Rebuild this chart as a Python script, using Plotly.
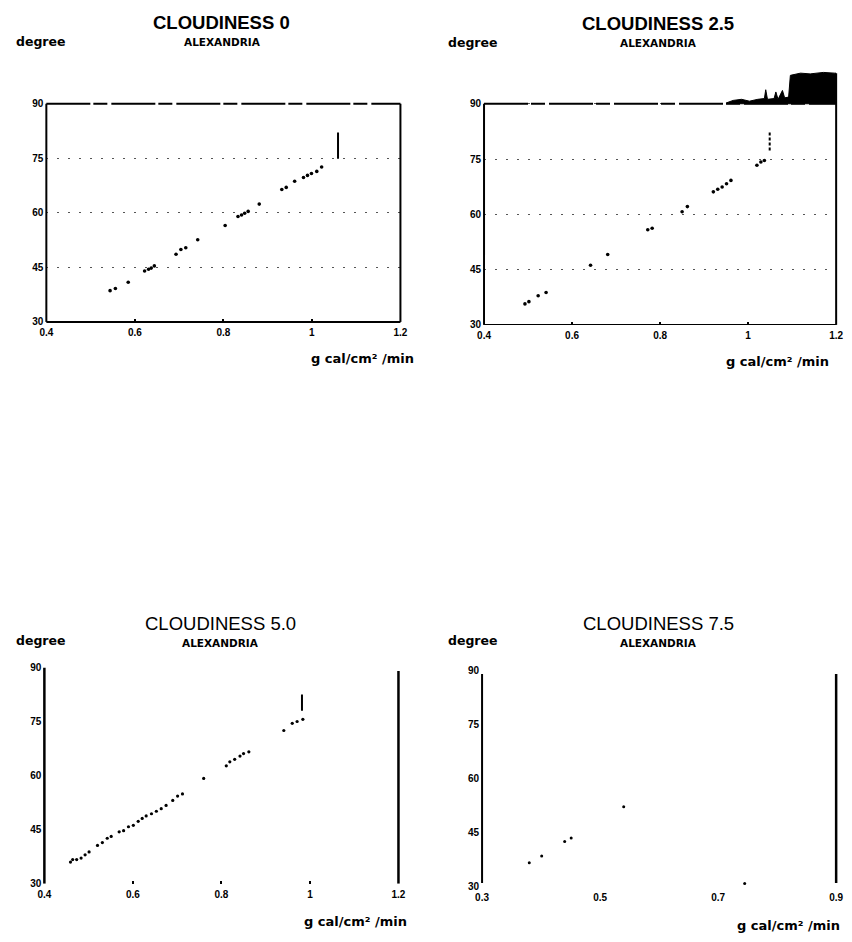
import plotly.graph_objects as go

W, H = 852, 942

# ---------------- data ----------------
# Cloudiness 0
c0_x = [0.544, 0.556, 0.585, 0.622, 0.631, 0.637, 0.644, 0.693, 0.704, 0.715, 0.742,
        0.804, 0.833, 0.841, 0.848, 0.856, 0.881, 0.932, 0.942, 0.961, 0.981, 0.990,
        0.999, 1.011, 1.022]
c0_y = [38.6, 39.2, 40.9, 44.0, 44.5, 44.8, 45.4, 48.6, 49.9, 50.4, 52.6,
        56.5, 59.0, 59.4, 59.9, 60.4, 62.4, 66.4, 67.0, 68.7, 69.7, 70.3,
        70.8, 71.4, 72.6]
c0_bar_x = [1.059, 1.059]
c0_bar_y = [74.9, 82.1]

# Cloudiness 2.5
c25_x = [0.493, 0.502, 0.523, 0.541, 0.642, 0.681, 0.772, 0.782, 0.850, 0.862,
         0.921, 0.931, 0.941, 0.951, 0.961, 1.020, 1.029, 1.037]
c25_y = [35.7, 36.3, 37.9, 38.8, 46.2, 49.1, 55.8, 56.2, 60.7, 62.1,
         66.1, 66.8, 67.4, 68.3, 69.2, 73.3, 74.2, 74.6]
c25_bar_x = [1.049, 1.049]
c25_bar_y = [77.3, 82.2]
# dark band printed above the frame of the 2.5 panel
band_x = [0.950, 0.966, 0.985, 1.003, 1.022, 1.037, 1.040, 1.044, 1.059, 1.063, 1.068,
          1.078, 1.083, 1.092, 1.096, 1.119, 1.141, 1.171, 1.197, 1.200]
band_y = [90.2, 90.9, 91.2, 90.7, 91.2, 91.4, 93.8, 91.2, 91.4, 93.2, 91.2,
          93.6, 91.6, 91.8, 97.7, 98.3, 98.1, 98.5, 98.3, 98.3]
band_base = 90

# Cloudiness 5.0
c5_x = [0.459, 0.464, 0.473, 0.483, 0.492, 0.501, 0.520, 0.531, 0.542, 0.551, 0.569,
        0.579, 0.590, 0.601, 0.612, 0.621, 0.630, 0.642, 0.653, 0.664, 0.675, 0.690,
        0.701, 0.712, 0.760, 0.811, 0.819, 0.830, 0.842, 0.850, 0.862, 0.941, 0.960,
        0.971, 0.984]
c5_y = [36.0, 36.7, 36.7, 37.1, 38.0, 38.8, 40.6, 41.4, 42.6, 43.1, 44.4,
        44.7, 45.8, 46.2, 47.3, 48.1, 48.8, 49.4, 50.1, 50.8, 51.7, 53.1,
        54.3, 54.9, 59.2, 62.7, 63.8, 64.5, 65.4, 66.1, 66.6, 72.5, 74.5,
        75.0, 75.6]
c5_bar_x = [0.982, 0.982]
c5_bar_y = [78.0, 82.5]

# Cloudiness 7.5
c75_x = [0.380, 0.401, 0.440, 0.451, 0.540, 0.745]
c75_y = [36.6, 38.5, 42.5, 43.5, 52.2, 30.9]

y_ticks = [30, 45, 60, 75, 90]
x_ticks_a = [0.4, 0.6, 0.8, 1.0, 1.2]
x_text_a = ["0.4", "0.6", "0.8", "1", "1.2"]
x_ticks_b = [0.3, 0.5, 0.7, 0.9]
x_text_b = ["0.3", "0.5", "0.7", "0.9"]

titles = ["CLOUDINESS 0", "CLOUDINESS 2.5", "CLOUDINESS 5.0", "CLOUDINESS 7.5"]
station = "ALEXANDRIA"
y_label = "degree"
x_label = "g cal/cm² /min"

# ---------------- layout helpers ----------------
def dx(a, b):
    return [a / W, b / W]

def dy(top, bottom):
    return [1 - bottom / H, 1 - top / H]

FONT = "Liberation Sans"
WIDE = "DejaVu Sans"
tickfont = dict(family=FONT, size=10, color="black", weight="bold")

fig = go.Figure()

dot = dict(color="black", size=3.6, symbol="circle")

fig.add_trace(go.Scatter(x=c0_x, y=c0_y, mode="markers", marker=dot, xaxis="x", yaxis="y"))
fig.add_trace(go.Scatter(x=c0_bar_x, y=c0_bar_y, mode="lines",
                         line=dict(color="black", width=2), xaxis="x", yaxis="y"))

# band: closed polygon from the band top back along the frame line
poly_x = band_x + band_x[::-1]
poly_y = band_y + [band_base] * len(band_x)
fig.add_trace(go.Scatter(x=poly_x, y=poly_y, mode="lines", fill="toself",
                         fillcolor="black", line=dict(color="black", width=1),
                         xaxis="x2", yaxis="y2"))
fig.add_trace(go.Scatter(x=c25_x, y=c25_y, mode="markers", marker=dot, xaxis="x2", yaxis="y2"))
fig.add_trace(go.Scatter(x=c25_bar_x, y=c25_bar_y, mode="lines",
                         line=dict(color="black", width=2, dash="3px,2px"),
                         xaxis="x2", yaxis="y2"))

fig.add_trace(go.Scatter(x=c5_x, y=c5_y, mode="markers",
                         marker=dict(color="black", size=3.2), xaxis="x3", yaxis="y3"))
fig.add_trace(go.Scatter(x=c5_bar_x, y=c5_bar_y, mode="lines",
                         line=dict(color="black", width=2), xaxis="x3", yaxis="y3"))

fig.add_trace(go.Scatter(x=c75_x, y=c75_y, mode="markers",
                         marker=dict(color="black", size=3.0), xaxis="x4", yaxis="y4"))

grid = dict(showgrid=True, gridcolor="#555", gridwidth=1, griddash="2px,9px")
ycommon = dict(tickvals=y_ticks, ticktext=[str(v) for v in y_ticks], tickfont=tickfont,
               showline=False, zeroline=False, ticks="", ticklabelstandoff=2)
xcommon = dict(showgrid=False, zeroline=False, showline=False, tickfont=tickfont,
               ticklabelstandoff=3)

layout = dict(
    width=W, height=H, margin=dict(l=0, r=0, t=0, b=0), autosize=False,
    paper_bgcolor="white", plot_bgcolor="white", showlegend=False,
    xaxis=dict(domain=dx(40, 400), range=[0.4, 1.2], anchor="y", tickvals=x_ticks_a,
               ticktext=x_text_a, ticks="inside", ticklen=3, tickwidth=2,
               tickcolor="black", **xcommon),
    yaxis=dict(domain=dy(99, 320), range=[30, 90], anchor="x", **grid, **ycommon),
    xaxis2=dict(domain=dx(485, 843), range=[0.4, 1.2], anchor="y2", tickvals=x_ticks_a,
                ticktext=x_text_a, ticks="inside", ticklen=3, tickwidth=2,
                tickcolor="black", **xcommon),
    yaxis2=dict(domain=dy(65.4, 323), range=[30, 99], anchor="x2", **grid, **ycommon),
    xaxis3=dict(domain=dx(38, 398), range=[0.4, 1.2], anchor="y3", tickvals=x_ticks_a,
                ticktext=x_text_a, ticks="inside", ticklen=3, tickwidth=1.5,
                tickcolor="black", **xcommon),
    yaxis3=dict(domain=dy(670, 889), range=[30, 90], anchor="x3", showgrid=False, **ycommon),
    xaxis4=dict(domain=dx(483, 843), range=[0.3, 0.9], anchor="y4", tickvals=x_ticks_b,
                ticktext=x_text_b, ticks="", **xcommon),
    yaxis4=dict(domain=dy(673, 892), range=[30, 90], anchor="x4", showgrid=False, **ycommon),
)
fig.update_layout(**layout)

# ---------------- frames ----------------
shapes = []
def seg(xr, yr, x0, y0, x1, y1, width=2, dash="solid"):
    shapes.append(dict(type="line", xref=xr, yref=yr, x0=x0, y0=y0, x1=x1, y1=y1,
                       line=dict(color="black", width=width, dash=dash), layer="above"))

TOPDASH = "44px,3px,14px,4px"
# panel 0
seg("x domain", "y domain", 0, 0, 1, 0)
seg("x domain", "y domain", 0, 0, 0, 1)
seg("x domain", "y domain", 1, 0, 1, 1)
seg("x domain", "y domain", 0, 1, 1, 1, width=2, dash=TOPDASH)
# panel 2.5
seg("x2 domain", "y2", 0, 30, 1, 30)
seg("x2 domain", "y2", 0, 30, 0, 90)
seg("x2 domain", "y2", 1, 30, 1, 98.3)
seg("x2 domain", "y2", 0, 90, 1, 90, width=2, dash=TOPDASH)
# panel 5.0
seg("x3 domain", "y3", 0, 30, 0, 90, width=2.5)
seg("x3 domain", "y3", 1, 30, 1, 89, width=2.5)
# panel 7.5
seg("x4 domain", "y4", 0, 31, 0, 89, width=2)
seg("x4 domain", "y4", 1, 31, 1, 89, width=2.5)
fig.update_layout(shapes=shapes)

# ---------------- texts ----------------
ann = []
def txt(s, x, y, size, family=FONT, weight="bold", xanchor="center", yanchor="middle"):
    ann.append(dict(text=s, x=x / W, y=1 - y / H, xref="paper", yref="paper",
                    showarrow=False, xanchor=xanchor, yanchor=yanchor,
                    font=dict(family=family, size=size, color="black", weight=weight)))

title_pos = [(218, 17), (662, 18), (217, 625), (662, 625)]
sub_pos = [(219, 36), (662, 37), (217, 645), (662, 645)]
deg_pos = [(35, 36), (474, 37), (35, 643), (474, 643)]
xl_pos = [(416, 357), (838, 360), (409, 927), (849, 931)]
for i in range(4):
    txt(titles[i], *title_pos[i], 18.5, weight="bold" if i < 2 else "normal")
    txt(station, *sub_pos[i], 10.5, family=WIDE)
    txt(y_label, *deg_pos[i], 12.5, family=WIDE)
    txt(x_label, *xl_pos[i], 13, family=WIDE, xanchor="right")
fig.update_layout(annotations=ann)

fig.write_html("out.html", config={"displayModeBar": False},
               post_script="document.body.style.margin='0px';"
                           "document.body.style.overflow='hidden';")
